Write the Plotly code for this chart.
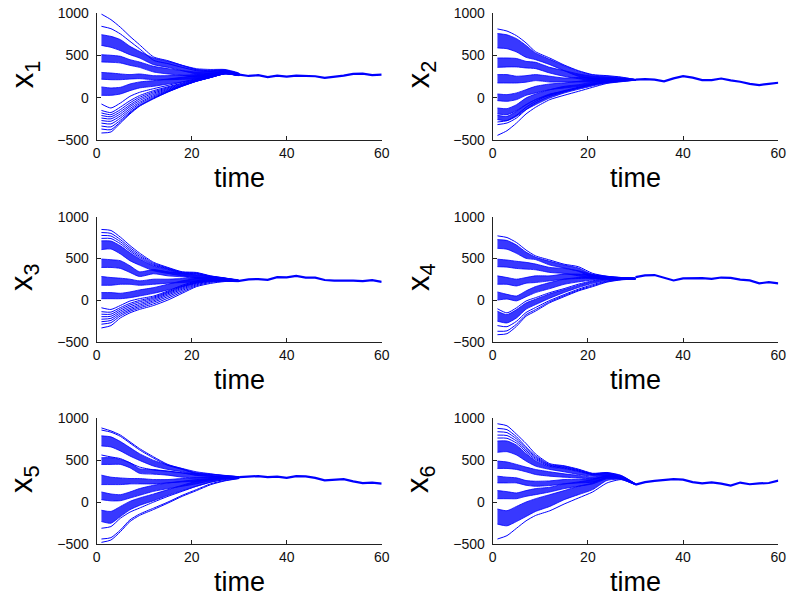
import plotly.graph_objects as go

# ---------------- data ----------------
TIME_EARLY = [1, 3, 5, 7, 9, 12, 15, 18, 21, 24, 27, 30]
TIME_TAIL = [30, 32, 34, 36, 38, 40, 42, 44, 46, 48, 50, 52, 54, 56, 58, 60]

# --- x1 ---
x1_lines = [
    [990, 925, 834, 727, 629, 483, 439, 384, 333, 320, 330, 285],
    [846, 818, 755, 668, 581, 443, 404, 360, 321, 312, 325, 282],
    [-74, -121, -62, 17, 64, 108, 147, 187, 226, 262, 300, 275],
    [-150, -175, -110, -35, 25, 85, 130, 175, 218, 258, 296, 272],
    [-180, -200, -140, -60, 5, 70, 120, 168, 212, 254, 293, 270],
    [-210, -225, -165, -85, -15, 55, 110, 160, 207, 250, 290, 268],
    [-240, -250, -190, -105, -35, 40, 100, 153, 203, 247, 288, 266],
    [-270, -278, -215, -128, -55, 25, 90, 147, 200, 244, 286, 265],
    [-300, -310, -240, -150, -72, 12, 82, 143, 198, 242, 285, 264],
    [-335, -345, -265, -170, -88, 0, 75, 140, 197, 241, 284, 263],
    [-370, -378, -285, -182, -96, -6, 71, 138, 196, 240, 284, 263],
    [-417, -405, -299, -192, -101, -11, 68, 136, 195, 240, 283, 263],
]
x1_bands_upper = [
    [747, 727, 688, 609, 550, 471, 431, 384, 345, 335, 335, 290],
    [510, 503, 491, 451, 424, 372, 345, 321, 305, 310, 320, 285],
    [300, 293, 282, 274, 282, 262, 262, 266, 274, 290, 310, 282],
    [128, 116, 124, 163, 187, 203, 222, 242, 262, 285, 305, 280],
]
x1_bands_lower = [
    [620, 597, 558, 510, 471, 392, 360, 321, 282, 290, 310, 278],
    [424, 420, 412, 384, 360, 305, 282, 266, 242, 268, 300, 270],
    [220, 214, 214, 222, 226, 214, 214, 218, 226, 255, 290, 265],
    [29, 29, 45, 84, 116, 136, 163, 187, 210, 245, 285, 263],
]
x1_tail = [275, 258, 268, 245, 262, 250, 262, 258, 255, 235, 245, 262, 282, 285, 268, 275]

# --- x2 ---
x2_lines = [
    [815, 790, 735, 650, 545, 470, 388, 321, 274, 262, 245, 215],
    [-287, -271, -208, -113, -42, 37, 84, 124, 163, 185, 200, 212],
    [-318, -299, -240, -141, -62, 17, 68, 116, 155, 180, 195, 212],
    [-445, -390, -299, -192, -113, -22, 29, 76, 124, 170, 190, 210],
]
x2_bands_upper = [
    [760, 745, 700, 620, 530, 455, 380, 315, 270, 255, 240, 215],
    [471, 471, 465, 431, 420, 360, 321, 282, 255, 245, 232, 214],
    [274, 274, 255, 262, 274, 255, 234, 240, 234, 235, 228, 214],
    [45, 37, 57, 96, 135, 163, 175, 195, 215, 225, 222, 214],
    [-121, -129, -82, -3, 45, 96, 135, 155, 185, 210, 215, 213],
    [-208, -220, -160, -82, -22, 45, 76, 116, 155, 195, 205, 211],
]
x2_bands_lower = [
    [590, 581, 542, 479, 451, 392, 321, 254, 226, 222, 215, 208],
    [360, 365, 365, 353, 345, 293, 254, 226, 203, 205, 205, 208],
    [175, 175, 175, 185, 203, 187, 187, 187, 187, 195, 203, 208],
    [-34, -42, -22, 29, 57, 96, 116, 135, 163, 185, 200, 208],
    [-192, -200, -153, -82, -22, 29, 76, 116, 155, 185, 200, 210],
    [-259, -271, -220, -141, -82, -3, 56, 100, 140, 175, 195, 209],
]
x2_tail = [215, 220, 215, 195, 230, 255, 238, 210, 210, 228, 205, 190, 165, 150, 165, 178]

# --- x3 ---
x3_lines = [
    [847, 835, 754, 654, 565, 452, 391, 339, 331, 290, 265, 235],
    [810, 800, 725, 630, 545, 440, 383, 333, 325, 287, 262, 234],
    [775, 768, 700, 608, 527, 428, 375, 328, 320, 284, 260, 233],
    [740, 738, 675, 588, 510, 418, 368, 323, 315, 281, 258, 232],
    [-93, -113, -65, -12, 16, 48, 109, 177, 230, 258, 250, 230],
    [-140, -145, -90, -40, -5, 35, 98, 165, 220, 252, 247, 229],
    [-170, -170, -110, -60, -22, 22, 88, 155, 212, 246, 244, 228],
    [-200, -195, -130, -80, -42, 8, 75, 143, 203, 240, 240, 227],
    [-230, -220, -150, -100, -60, -8, 60, 130, 193, 232, 236, 226],
    [-260, -245, -170, -118, -78, -25, 42, 115, 183, 222, 232, 225],
    [-290, -272, -190, -135, -95, -45, 22, 98, 172, 212, 228, 224],
    [-335, -307, -214, -154, -113, -65, 0, 81, 161, 200, 222, 222],
]
x3_bands_upper = [
    [710, 708, 650, 568, 495, 408, 360, 318, 310, 278, 256, 231],
    [492, 484, 472, 411, 339, 365, 339, 319, 300, 282, 262, 238],
    [282, 270, 262, 250, 230, 250, 250, 258, 270, 272, 258, 235],
    [89, 89, 81, 97, 121, 149, 190, 230, 258, 270, 255, 232],
]
x3_bands_lower = [
    [605, 613, 553, 472, 419, 351, 319, 290, 270, 255, 245, 225],
    [391, 391, 379, 331, 282, 315, 290, 278, 258, 250, 240, 225],
    [177, 177, 189, 189, 177, 189, 202, 210, 218, 225, 228, 222],
    [16, 16, 16, 28, 48, 81, 121, 161, 202, 222, 230, 224],
]
x3_tail = [230, 248, 252, 242, 275, 272, 290, 270, 268, 240, 232, 235, 232, 228, 238, 218]

# --- x4 ---
x4_lines = [
    [770, 750, 690, 600, 530, 480, 430, 400, 320, 285, 270, 262],
    [-105, -154, -93, -12, 28, 89, 137, 190, 230, 252, 260, 260],
    [-307, -320, -255, -150, -90, -5, 65, 130, 185, 230, 248, 254],
    [-375, -370, -290, -175, -115, -20, 52, 118, 172, 222, 245, 253],
    [-416, -404, -315, -194, -133, -32, 40, 109, 161, 215, 242, 252],
]
x4_bands_upper = [
    [725, 715, 660, 575, 515, 465, 420, 385, 305, 278, 266, 260],
    [490, 480, 465, 452, 432, 391, 379, 351, 310, 285, 270, 262],
    [290, 270, 250, 270, 290, 290, 311, 311, 300, 282, 268, 262],
    [97, 68, 48, 109, 161, 210, 250, 270, 278, 275, 266, 262],
    [-135, -175, -115, -35, 10, 75, 125, 178, 222, 246, 256, 258],
]
x4_bands_lower = [
    [620, 610, 560, 500, 485, 420, 385, 345, 270, 260, 255, 255],
    [400, 395, 379, 371, 363, 331, 319, 290, 258, 255, 253, 254],
    [189, 189, 169, 202, 210, 230, 250, 258, 260, 255, 252, 254],
    [0, 12, -10, 40, 89, 137, 189, 218, 240, 250, 250, 253],
    [-254, -275, -215, -110, -55, 22, 90, 150, 200, 238, 250, 255],
]
x4_tail = [275, 295, 300, 270, 235, 260, 265, 262, 255, 270, 265, 245, 235, 200, 215, 200]

# --- x5 ---
x5_lines = [
    [885, 850, 800, 720, 640, 540, 450, 400, 345, 335, 320, 305],
    [860, 835, 785, 705, 625, 525, 440, 392, 340, 330, 318, 303],
    [563, 540, 520, 470, 420, 385, 370, 350, 320, 310, 300, 298],
    [-309, -289, -189, -117, -69, 3, 71, 131, 191, 240, 270, 290],
    [-437, -421, -329, -209, -141, -69, 3, 83, 151, 220, 260, 285],
    [-477, -449, -349, -229, -157, -85, -9, 71, 139, 210, 255, 283],
]
x5_bands_upper = [
    [791, 779, 723, 651, 579, 499, 443, 403, 363, 340, 315, 302],
    [531, 531, 511, 471, 400, 390, 371, 351, 340, 320, 305, 300],
    [323, 299, 290, 283, 283, 271, 271, 283, 291, 300, 302, 300],
    [123, 99, 91, 123, 163, 203, 231, 251, 270, 285, 295, 298],
    [-95, -109, -49, 11, 51, 99, 151, 203, 251, 275, 290, 298],
]
x5_bands_lower = [
    [671, 659, 611, 551, 499, 431, 391, 363, 323, 310, 300, 296],
    [451, 451, 451, 411, 345, 335, 323, 299, 290, 290, 292, 295],
    [211, 211, 211, 219, 219, 219, 231, 243, 251, 270, 285, 294],
    [31, 17, 19, 51, 83, 131, 163, 191, 220, 255, 280, 292],
    [-229, -249, -169, -89, -37, 19, 83, 139, 191, 240, 275, 292],
]
x5_tail = [300, 305, 312, 300, 305, 290, 312, 308, 290, 262, 265, 275, 250, 228, 235, 222]

# --- x6 ---
x6_lines = [
    [935, 911, 811, 700, 575, 460, 435, 395, 345, 355, 320, 220],
    [880, 865, 780, 660, 555, 450, 428, 388, 340, 350, 315, 220],
    [840, 830, 755, 640, 540, 442, 420, 382, 336, 345, 310, 219],
    [800, 795, 730, 620, 525, 435, 413, 376, 332, 340, 305, 219],
    [765, 762, 705, 600, 510, 428, 406, 370, 328, 335, 300, 218],
    [-437, -397, -309, -221, -157, -101, -21, 51, 123, 230, 270, 208],
]
x6_bands_upper = [
    [730, 730, 680, 580, 495, 420, 400, 365, 325, 340, 300, 218],
    [491, 480, 451, 419, 391, 363, 339, 320, 300, 325, 295, 216],
    [311, 299, 291, 259, 251, 255, 271, 275, 280, 315, 290, 214],
    [139, 127, 111, 139, 163, 179, 219, 243, 271, 310, 288, 214],
    [-80, -100, -49, 3, 43, 91, 139, 191, 231, 300, 285, 212],
]
x6_bands_lower = [
    [595, 603, 563, 491, 431, 391, 363, 331, 311, 320, 290, 215],
    [403, 403, 391, 363, 331, 311, 299, 290, 280, 305, 285, 213],
    [231, 231, 231, 203, 191, 200, 219, 230, 240, 290, 280, 211],
    [43, 43, 43, 71, 91, 123, 163, 191, 219, 280, 278, 211],
    [-260, -280, -229, -169, -109, -49, 31, 91, 151, 260, 272, 210],
]
x6_tail = [210, 240, 255, 268, 275, 270, 240, 225, 238, 222, 200, 235, 215, 225, 230, 258]

Y_LABELS = ["1", "2", "3", "4", "5", "6"]
X_TICKS = [0, 20, 40, 60]
Y_TICKS = [-500, 0, 500, 1000]

# ---------------- layout geometry (window pixels) ----------------
W, H = 788, 599
COLS_PX = [(96.7, 381.7), (492.7, 778.3)]
ROWS_PX = [(13.3, 140.0), (216.7, 341.7), (418.3, 544.3)]
TIME_BOTTOM_PX = [195, 397, 599]
BLUE = "#0000ff"
BAND_FILL = "rgba(0,0,255,0.78)"
FONT = "Liberation Sans, Arial, sans-serif"


def px_x(p):
    return p / W


def px_y(p):
    return 1 - p / H


panels = [
    (x1_lines, x1_bands_upper, x1_bands_lower, x1_tail),
    (x2_lines, x2_bands_upper, x2_bands_lower, x2_tail),
    (x3_lines, x3_bands_upper, x3_bands_lower, x3_tail),
    (x4_lines, x4_bands_upper, x4_bands_lower, x4_tail),
    (x5_lines, x5_bands_upper, x5_bands_lower, x5_tail),
    (x6_lines, x6_bands_upper, x6_bands_lower, x6_tail),
]

fig = go.Figure()
annotations = []
layout_axes = {}

for i, (lines, ups, lows, tail) in enumerate(panels):
    n = i + 1
    r, c = divmod(i, 2)
    xa = "x" if n == 1 else f"x{n}"
    ya = "y" if n == 1 else f"y{n}"
    for up, lo in zip(ups, lows):
        fig.add_trace(go.Scatter(
            x=TIME_EARLY + TIME_EARLY[::-1], y=up + lo[::-1],
            mode="lines", fill="toself", fillcolor=BAND_FILL,
            line=dict(color=BLUE, width=0.8, shape="spline", smoothing=0.6),
            xaxis=xa, yaxis=ya, hoverinfo="skip", showlegend=False))
    for ln in lines:
        fig.add_trace(go.Scatter(
            x=TIME_EARLY, y=ln, mode="lines",
            line=dict(color=BLUE, width=1, shape="spline", smoothing=0.6),
            xaxis=xa, yaxis=ya, showlegend=False))
    fig.add_trace(go.Scatter(
        x=TIME_TAIL, y=tail, mode="lines",
        line=dict(color=BLUE, width=2.2), xaxis=xa, yaxis=ya,
        showlegend=False))

    x0, x1 = COLS_PX[c]
    y0, y1 = ROWS_PX[r]
    common = dict(showline=True, linecolor="#222222", linewidth=1,
                  ticks="inside", ticklen=4, tickcolor="#222222",
                  showgrid=False, zeroline=False, mirror=False,
                  automargin=False, ticklabeloverflow="allow",
                  tickfont=dict(family=FONT, size=14, color="#111111"))
    layout_axes["xaxis" if n == 1 else f"xaxis{n}"] = dict(
        domain=[px_x(x0), px_x(x1)], range=[0, 60], tickvals=X_TICKS,
        anchor=ya, **common)
    layout_axes["yaxis" if n == 1 else f"yaxis{n}"] = dict(
        domain=[px_y(y1), px_y(y0)], range=[-500, 1000], tickvals=Y_TICKS,
        anchor=xa, ticklabelstandoff=4, **common)

    annotations.append(dict(
        text="time", xref="paper", yref="paper",
        x=px_x((x0 + x1) / 2), y=px_y(TIME_BOTTOM_PX[r]),
        xanchor="center", yanchor="bottom", showarrow=False,
        font=dict(family=FONT, size=27, color="#000000")))
    annotations.append(dict(
        text=f"x<sub>{Y_LABELS[i]}</sub>", xref="paper", yref="paper",
        x=px_x(x0 - 72), y=px_y((y0 + y1) / 2 - 2),
        xanchor="center", yanchor="middle", textangle=-90, showarrow=False,
        font=dict(family=FONT, size=31, color="#000000")))

fig.update_layout(
    width=W, height=H, margin=dict(l=0, r=0, t=0, b=0, autoexpand=False),
    paper_bgcolor="white", plot_bgcolor="white",
    annotations=annotations, **layout_axes)

fig.write_html(
    "out.html",
    config={"displayModeBar": False},
    post_script="document.body.style.margin='0';"
                "document.body.style.overflow='hidden';")
